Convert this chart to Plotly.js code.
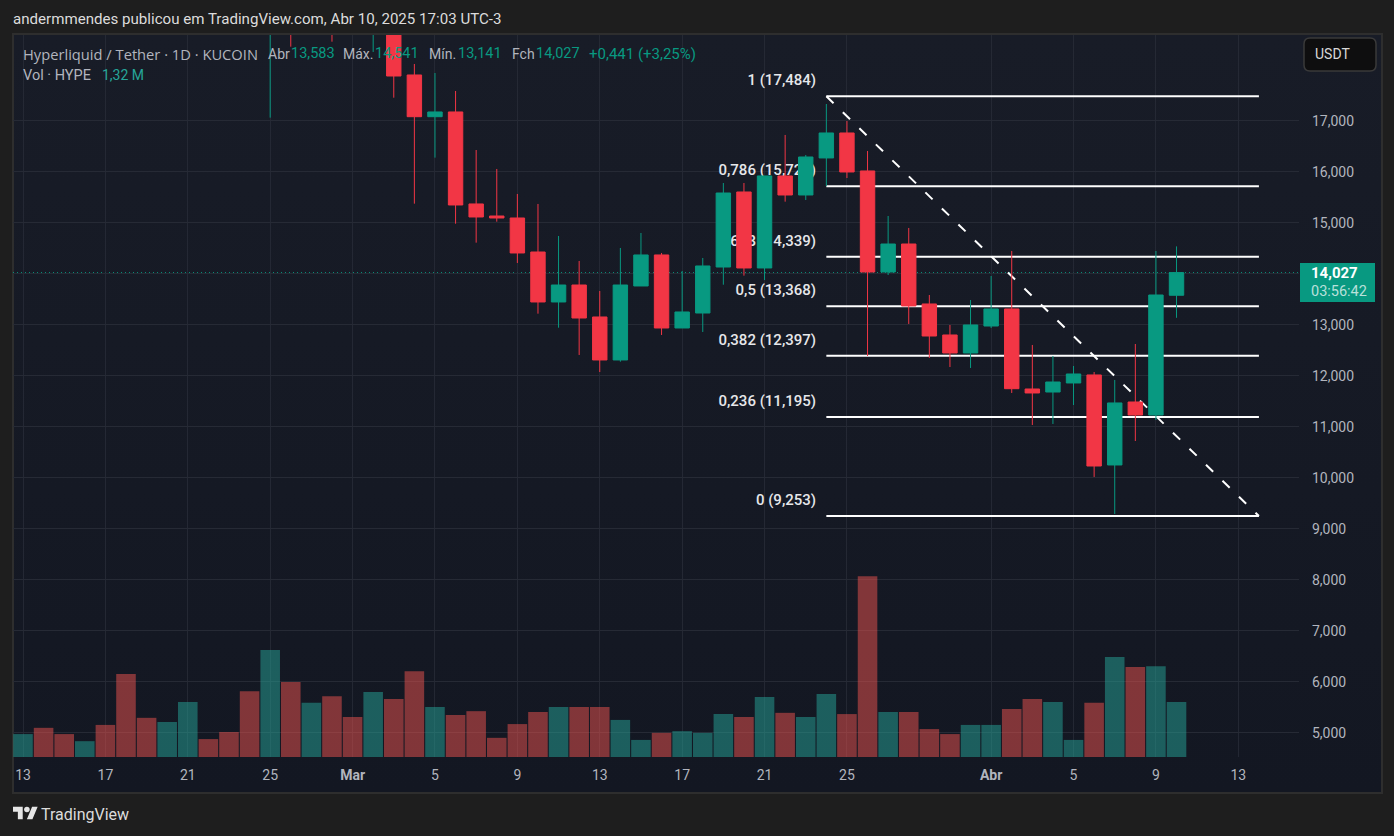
<!DOCTYPE html>
<html><head><meta charset="utf-8">
<script src="https://cdn.plot.ly/plotly-3.0.1.min.js"></script>
<style>
html,body{margin:0;padding:0;width:1394px;height:836px;overflow:hidden;background:#1e1e1e}
#frame{position:absolute;left:12px;top:33px;width:1367px;height:757px;border:2px solid #2e2e2e;background:linear-gradient(#181c27,#131722)}
#chart{position:absolute;left:0;top:0;width:1394px;height:836px}
#logo{position:absolute;left:13px;top:804px;width:25px;height:19.5px}
</style></head><body>
<div id="frame"></div>
<div id="chart"></div>
<svg id="logo" viewBox="0 0 36 28"><path fill="#e6e6e6" d="M14 22H7V11H0V4h14v18zM28 22h-8l7.5-18h8L28 22z"/><circle fill="#e6e6e6" cx="20" cy="8" r="4"/></svg>
<script>
const volDates = ["2025-02-13","2025-02-14","2025-02-15","2025-02-16","2025-02-17","2025-02-18","2025-02-19","2025-02-20","2025-02-21","2025-02-22","2025-02-23","2025-02-24","2025-02-25","2025-02-26","2025-02-27","2025-02-28","2025-03-01","2025-03-02","2025-03-03","2025-03-04","2025-03-05","2025-03-06","2025-03-07","2025-03-08","2025-03-09","2025-03-10","2025-03-11","2025-03-12","2025-03-13","2025-03-14","2025-03-15","2025-03-16","2025-03-17","2025-03-18","2025-03-19","2025-03-20","2025-03-21","2025-03-22","2025-03-23","2025-03-24","2025-03-25","2025-03-26","2025-03-27","2025-03-28","2025-03-29","2025-03-30","2025-03-31","2025-04-01","2025-04-02","2025-04-03","2025-04-04","2025-04-05","2025-04-06","2025-04-07","2025-04-08","2025-04-09","2025-04-10"];
const volumes = [0.55,0.70,0.55,0.38,0.77,1.99,0.94,0.84,1.32,0.43,0.60,1.58,2.57,1.80,1.30,1.46,0.96,1.56,1.39,2.06,1.20,1.01,1.10,0.46,0.79,1.08,1.20,1.20,1.20,0.89,0.41,0.58,0.62,0.58,1.03,0.96,1.44,1.06,0.96,1.51,1.03,4.34,1.08,1.08,0.67,0.55,0.77,0.77,1.15,1.39,1.32,0.41,1.30,2.40,2.16,2.18,1.32];
const volUp = [1,0,0,1,0,0,0,1,1,0,0,0,1,0,1,0,0,1,0,0,1,0,0,0,0,0,1,0,0,1,1,0,1,1,1,0,1,0,1,1,0,0,1,0,0,0,1,1,0,0,1,1,0,1,0,1,1];

const candleDates = volDates.slice(12);
const opens  = [19.5,21.0,19.4,20.6,19.6,18.9,20.0,17.902,17.084,17.177,15.373,15.137,15.098,14.431,13.451,13.784,13.157,12.314,13.765,14.373,12.941,13.235,14.137,15.608,14.118,15.922,15.549,16.275,16.765,16.020,14.039,14.588,13.412,12.804,12.451,12.980,13.314,11.745,11.686,11.863,12.020,10.255,11.490,11.235,13.583];
const highs  = [22.5,22.5,21.8,21.5,20.3,20.6,20.5,18.118,17.941,17.588,16.431,16.059,15.569,15.373,14.745,14.255,13.667,14.510,14.804,14.412,14.059,14.314,15.784,15.784,15.922,16.726,16.333,17.333,17.000,16.412,15.137,14.902,13.588,13.000,13.490,13.961,14.451,12.608,12.392,12.196,12.078,11.922,12.627,14.451,14.541];
const lows   = [17.065,18.457,18.9,18.555,18.72,18.353,17.457,15.379,16.281,14.986,14.614,15.026,14.216,13.222,12.947,12.412,12.078,12.280,13.765,12.804,12.941,12.863,13.790,13.967,13.882,15.418,15.451,15.726,15.882,12.392,13.980,13.020,12.353,12.176,12.157,12.941,11.667,11.039,11.059,11.431,10.020,9.294,10.725,11.137,13.141];
const closes = [21.0,19.3,20.6,19.0,18.9,20.0,17.882,17.084,17.177,15.353,15.118,15.098,14.412,13.451,13.784,13.137,12.314,13.784,14.373,12.941,13.255,14.157,15.588,14.118,15.922,15.549,16.294,16.765,16.000,14.039,14.588,13.373,12.784,12.451,13.000,13.314,11.751,11.667,11.882,12.039,10.235,11.471,11.235,13.588,14.027];

const fibStart = "2025-03-24";
const fibEnd = "2025-04-14";
const fibLabelDate = "2025-03-23 20:30";
const fibLevels = [17.484,15.720,14.339,13.368,12.397,11.195,9.253];
const fibLabels = ["1 (17,484)","0,786 (15,720)","0,618 (14,339)","0,5 (13,368)","0,382 (12,397)","0,236 (11,195)","0 (9,253)"];

const xTickVals = ["2025-02-13","2025-02-17","2025-02-21","2025-02-25","2025-03-01","2025-03-05","2025-03-09","2025-03-13","2025-03-17","2025-03-21","2025-03-25","2025-04-01","2025-04-05","2025-04-09","2025-04-13"];
const xTickText = ["13","17","21","25","<b>Mar</b>","5","9","13","17","21","25","<b>Abr</b>","5","9","13"];
const yTickVals = [5,6,7,8,9,10,11,12,13,14,15,16,17];
const yTickText = ["5,000","6,000","7,000","8,000","9,000","10,000","11,000","12,000","13,000","","15,000","16,000","17,000"];
const lastClose = 14.027;

const GREEN="#089981", RED="#F23645", FONT="Roboto, sans-serif";
const priceRange=[4.529,18.686], volRange=[0,17.328];

const traces = [];
fibLevels.forEach(v=>traces.push({type:"scatter",mode:"lines",x:[fibStart,fibEnd],y:[v,v],line:{color:"#ffffff",width:2},hoverinfo:"skip",showlegend:false}));
traces.push({type:"scatter",mode:"lines",x:[fibStart,fibEnd],y:[fibLevels[0],fibLevels[6]],line:{color:"#ffffff",width:2,dash:"10px,13px"},hoverinfo:"skip",showlegend:false});
traces.push({type:"scatter",mode:"markers+text",x:fibLevels.map(()=>fibLabelDate),y:fibLevels,text:fibLabels,textposition:"top left",
  textfont:{family:FONT,size:15,weight:500,color:"#e6e7ea"},marker:{size:10,opacity:0},hoverinfo:"skip",showlegend:false});
traces.push({type:"bar",x:volDates,y:volumes,yaxis:"y2",marker:{color:volUp.map(u=>u?"rgba(38,166,154,0.5)":"rgba(239,83,80,0.5)"),line:{width:0}},showlegend:false,name:"Vol"});
traces.push({type:"candlestick",x:candleDates,open:opens,high:highs,low:lows,close:closes,yaxis:"y3",whiskerwidth:0,showlegend:false,
  increasing:{line:{color:GREEN,width:1},fillcolor:GREEN},decreasing:{line:{color:RED,width:1},fillcolor:RED},name:"HYPE"});

const L=13,R=1299,T=35,B=757;
const sx=x=>(x-L)/(R-L), py=y=>(B-y)/(B-T);
const px=x=>sx(x-2);
function note(text,x,y,color,size,family){return {text:text,x:px(x),y:py(y),xref:"paper",yref:"paper",xanchor:"left",yanchor:"middle",showarrow:false,font:{family:family||FONT,size:size||14,color:color||"#b2b5be"},align:"left"};}
const GT="#089981";
const annotations=[
  note("andermmendes publicou em TradingView.com, Abr 10, 2025 17:03 UTC-3",13,19,"#dcdcdc",15.1),
  note("Hyperliquid / Tether · 1D · KUCOIN",23,54,"#b2b5be",14.7,"Open Sans, sans-serif"),
  note("Abr",268,54),note("13,583",291,54,GT,14.5),
  note("Máx.",343,54),note("14,541",375,54,GT,14.5),
  note("Mín.",429,54),note("13,141",458,54,GT,14.5),
  note("Fch",512,54),note("14,027",536,54,GT,14.5),
  note("+0,441 (+3,25%)",589,54,GT,15),
  note("Vol · HYPE",23,75,"#b2b5be",14.5),note("1,32 M",102,75,"#26a69a"),
  note("TradingView",41,815,"#dcdcdc",16),
  note("USDT",1315,54,"#d8d8d8",14),
  note("<b>14,027</b>",1311,273,"#ffffff",15),
  note("03:56:42",1311,291,"rgba(255,255,255,0.72)",14.5)
];

// rounded USDT button outline in paper coordinates
const bx0=sx(1304),bx1=sx(1376),by0=py(71),by1=py(38),rx=6/(R-L),ry=6/(B-T);
const btnPath=`M ${bx0+rx} ${by1} L ${bx1-rx} ${by1} Q ${bx1} ${by1} ${bx1} ${by1-ry} L ${bx1} ${by0+ry} Q ${bx1} ${by0} ${bx1-rx} ${by0} L ${bx0+rx} ${by0} Q ${bx0} ${by0} ${bx0} ${by0+ry} L ${bx0} ${by1-ry} Q ${bx0} ${by1} ${bx0+rx} ${by1} Z`;
const shapes=[
  {type:"line",layer:"below",xref:"paper",x0:0,x1:1,yref:"y",y0:lastClose,y1:lastClose,line:{color:GREEN,width:1,dash:"1px,3px"}},
  {type:"path",xref:"paper",yref:"paper",path:btnPath,line:{color:"#3a3a3a",width:1.5},fillcolor:"#0e0e0f"},
  {type:"rect",xref:"paper",yref:"paper",x0:sx(1300),x1:sx(1375),y0:py(302),y1:py(263),line:{width:0},fillcolor:GREEN}
];

const layout={
  width:1394,height:836,autosize:false,
  margin:{l:L,r:1394-R,t:T,b:836-B,pad:0},
  paper_bgcolor:"rgba(0,0,0,0)",plot_bgcolor:"rgba(0,0,0,0)",
  separators:",.",showlegend:false,dragmode:false,bargap:0.05,boxgap:0.3,boxgroupgap:0,hovermode:false,
  xaxis:{type:"date",range:["2025-02-12 12:21","2025-04-15 22:42"],rangeslider:{visible:false},tickmode:"array",tickvals:xTickVals,ticktext:xTickText,
    showgrid:true,gridcolor:"rgba(42,46,57,0.75)",gridwidth:1,zeroline:false,showline:false,ticks:"",ticklabelstandoff:8,tickfont:{family:FONT,size:14,color:"#b2b5be"}},
  yaxis:{range:priceRange,side:"right",tickmode:"array",tickvals:yTickVals,ticktext:yTickText,showgrid:true,gridcolor:"#262a35",gridwidth:1,zeroline:false,showline:false,ticks:"",ticklabelstandoff:12,tickfont:{family:FONT,size:14,color:"#b2b5be"}},
  yaxis2:{range:volRange,overlaying:"y",visible:false,fixedrange:true},
  yaxis3:{range:priceRange,overlaying:"y",visible:false,fixedrange:true},
  annotations:annotations,shapes:shapes
};
Plotly.newPlot("chart",traces,layout,{staticPlot:true,displayModeBar:false});
</script></body></html>
